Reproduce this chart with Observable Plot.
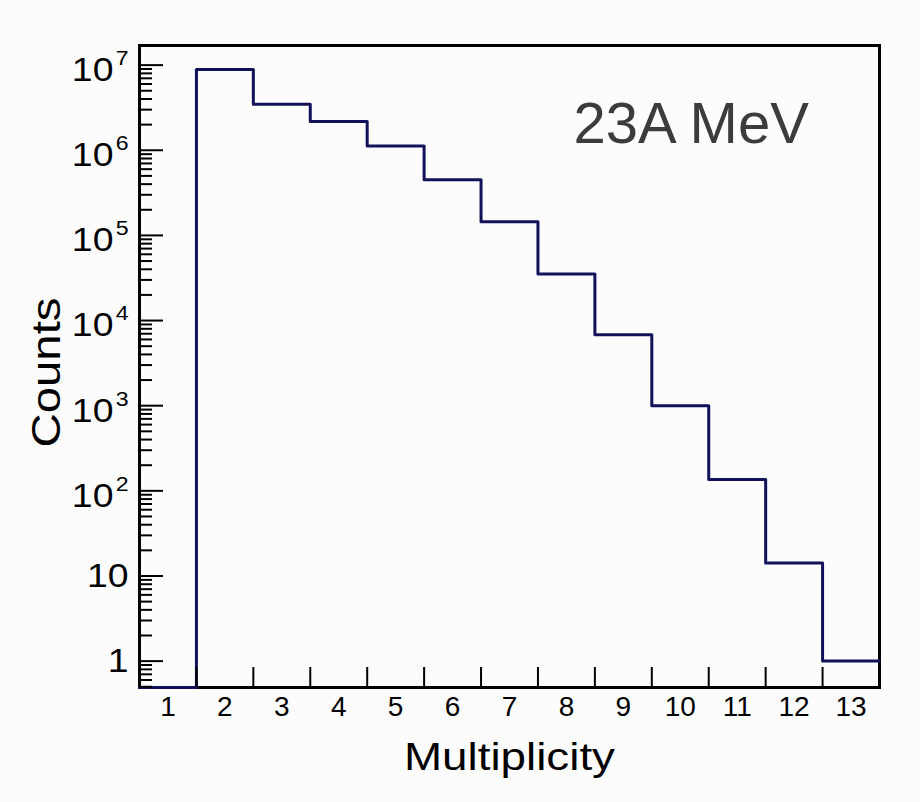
<!DOCTYPE html>
<html><head><meta charset="utf-8">
<script src="https://cdn.jsdelivr.net/npm/d3@7"></script>
<script src="https://cdn.jsdelivr.net/npm/@observablehq/plot@0.6"></script>
<style>
html,body{margin:0;padding:0;background:#fcfcfc;}
#chart{width:920px;height:802px;}
</style></head><body><div id="chart"></div>
<script>
// ---- data ----
const multiplicity = [1,2,3,4,5,6,7,8,9,10,11,12,13];
const counts = [0, 8.9e6, 3.46e6, 2.18e6, 1.12e6, 4.52e5, 1.45e5, 3.51e4, 6.8e3, 1.0e3, 136, 14.2, 1];
const yMajorTicks = [1, 10, 100, 1e3, 1e4, 1e5, 1e6, 1e7];
const yTickLabels = ["1", "10", "10^2", "10^3", "10^4", "10^5", "10^6", "10^7"];
const xTickLabels = ["1","2","3","4","5","6","7","8","9","10","11","12","13"];
const xLabel = "Multiplicity";
const yLabel = "Counts";
const annotation = "23A MeV";
const yDomain = [0.49, 1.7e7];
const xDomain = [0.5, 13.5];

// ---- derived ----
const steps = multiplicity.map((m, i) => ({x: m - 0.5, y: Math.max(counts[i], yDomain[0])}));
steps.push({x: multiplicity[multiplicity.length - 1] + 0.5, y: Math.max(counts[counts.length - 1], yDomain[0])});
const binEdges = multiplicity.slice(1).map(m => m - 0.5);
const yMinor = [];
for (let e = -1; e <= 6; e++) for (let k = 2; k <= 9; k++) {
  const v = k * Math.pow(10, e);
  if (v >= yDomain[0] && v <= yDomain[1]) yMinor.push(v);
}

const font = "'Liberation Sans', Arial, Helvetica, sans-serif";
const chart = Plot.plot({
  width: 920, height: 802,
  marginLeft: 139, marginRight: 41, marginTop: 45, marginBottom: 115,
  style: {background: "transparent", fontFamily: font, color: "#000"},
  x: {domain: xDomain},
  y: {type: "log", domain: yDomain},
  marks: [
    Plot.frame({stroke: "#000", strokeWidth: 3}),
    Plot.line(steps, {x: "x", y: "y", curve: "step-after", stroke: "#12125a", strokeWidth: 3}),
    // y ticks inside the frame
    Plot.axisY({ticks: yMajorTicks, tickSize: 24, insetLeft: 24, strokeWidth: 2, fill: "none", label: null}),
    Plot.axisY({ticks: yMinor, tickSize: 13, insetLeft: 13, strokeWidth: 2, fill: "none", label: null}),
    Plot.axisY({ticks: yMajorTicks, tickSize: 0, tickPadding: 11, fontSize: 34,
      tickFormat: d => yTickLabels[yMajorTicks.indexOf(d)], label: null}),
    // x ticks at bin edges, inside
    Plot.axisX({ticks: binEdges, tickSize: 20, insetBottom: 20, strokeWidth: 2, fill: "none", label: null}),
    Plot.axisX({ticks: multiplicity, tickSize: 0, tickPadding: 9, fontSize: 28,
      tickFormat: d => xTickLabels[multiplicity.indexOf(d)], label: null}),
    Plot.text([xLabel], {frameAnchor: "bottom", textAnchor: "middle", lineAnchor: "top", dy: 56, fontSize: 38, fill: "#000"}),
    Plot.text([yLabel], {frameAnchor: "left", textAnchor: "middle", rotate: -90, dx: -92, dy: 6, fontSize: 40, fill: "#000"}),
    Plot.text([annotation], {frameAnchor: "top-left", textAnchor: "start", lineAnchor: "top", dx: 434, dy: 56, fontSize: 58, fill: "#3c3c3c"})
  ]
});

// y tick labels: superscript exponents and slightly wider glyphs
d3.select(chart).selectAll('g[aria-label="y-axis tick label"] text').each(function() {
  const t = this.textContent;
  const m = /^10\^(\d+)$/.exec(t);
  let tr = this.getAttribute("transform") || "";
  if (m) {
    const sel = d3.select(this);
    sel.text(null);
    sel.append("tspan").text("10");
    sel.append("tspan").attr("dx", 2).attr("dy", -16).attr("font-size", 21).text(m[1]);
    tr += " translate(0,5)";
  }
  this.setAttribute("transform", tr + " scale(1.1,1)");
});
// axis titles: wider set width as in the reference
d3.select(chart).selectAll("text").each(function() {
  if (this.textContent === xLabel) { this.setAttribute("textLength", 211); this.setAttribute("lengthAdjust", "spacingAndGlyphs"); }
  if (this.textContent === yLabel) { this.setAttribute("textLength", 150); this.setAttribute("lengthAdjust", "spacingAndGlyphs"); }
});

document.getElementById("chart").appendChild(chart);
</script>
</body></html>
